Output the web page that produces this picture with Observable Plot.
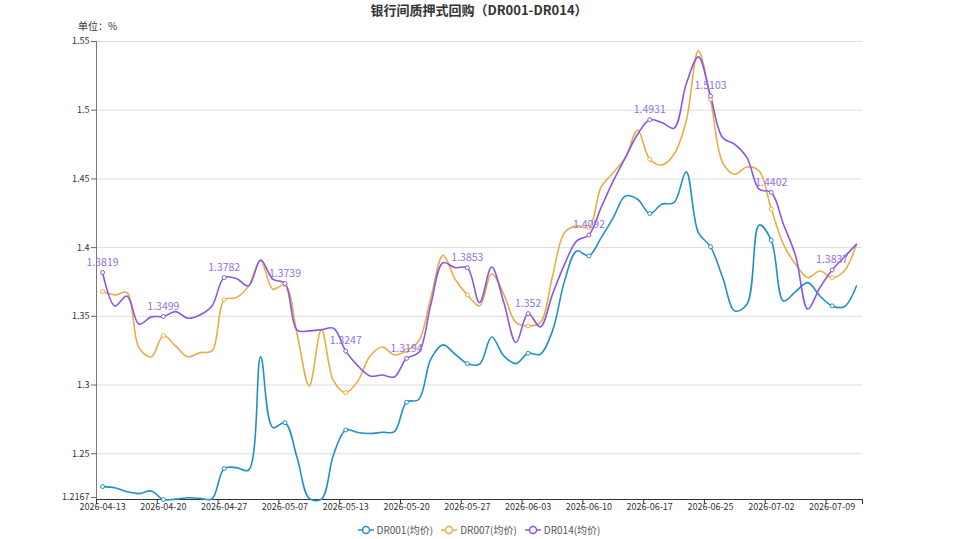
<!DOCTYPE html>
<html>
<head>
<meta charset="utf-8">
<script src="https://cdn.jsdelivr.net/npm/d3@7"></script>
<script src="https://cdn.jsdelivr.net/npm/@observablehq/plot@0.6"></script>
<style>
  body { margin: 0; background: #fff; font-family: "Noto Sans CJK SC", "Noto Sans", sans-serif; }
  #wrap { position: relative; width: 958px; height: 539px; }
  #title { height: 20px; line-height: 19px; text-align: center; font-size: 13px; font-weight: bold; color: #333; }
  #unit { position: absolute; left: 78px; top: 18px; font-size: 10px; color: #333; }
  #legend { display: flex; justify-content: center; align-items: center; gap: 8px; height: 19px; font-size: 10px; color: #555; }
  #legend span.item { display: inline-flex; align-items: center; gap: 3px; }
  svg { display: block; }
</style>
</head>
<body>
<div id="wrap">
  <div id="title">银行间质押式回购（DR001-DR014）</div>
  <div id="unit">单位：%</div>
  <div id="chart"></div>
  <div id="legend"></div>
</div>
<script>
// Trading days shown on the category axis
const dates = [
  "2026-04-13","2026-04-14","2026-04-15","2026-04-16","2026-04-17",
  "2026-04-20","2026-04-21","2026-04-22","2026-04-23","2026-04-24",
  "2026-04-27","2026-04-28","2026-04-29","2026-04-30","2026-05-06",
  "2026-05-07","2026-05-08","2026-05-09","2026-05-11","2026-05-12",
  "2026-05-13","2026-05-14","2026-05-15","2026-05-18","2026-05-19",
  "2026-05-20","2026-05-21","2026-05-22","2026-05-25","2026-05-26",
  "2026-05-27","2026-05-28","2026-05-29","2026-06-01","2026-06-02",
  "2026-06-03","2026-06-04","2026-06-05","2026-06-08","2026-06-09",
  "2026-06-10","2026-06-11","2026-06-12","2026-06-15","2026-06-16",
  "2026-06-17","2026-06-18","2026-06-22","2026-06-23","2026-06-24",
  "2026-06-25","2026-06-26","2026-06-29","2026-06-30","2026-07-01",
  "2026-07-02","2026-07-03","2026-07-06","2026-07-07","2026-07-08",
  "2026-07-09","2026-07-10","2026-07-13"
];

const seriesNames = ["DR001(均价)", "DR007(均价)", "DR014(均价)"];
const seriesColors = ["#1f91c6", "#e9ad48", "#8758e3"];

const dr001 = [
  1.2261,1.2253,1.2224,1.2210,1.2229, 1.2167,1.2170,1.2180,1.2175,1.2172,
  1.2392,1.2399,1.2380,1.3205,1.2690, 1.2726,1.2471,1.2175,1.2170,1.2495,
  1.2673,1.2654,1.2647,1.2656,1.2661, 1.2875,1.2895,1.3190,1.3292,1.3224,
  1.3156,1.3151,1.3350,1.3212,1.3156, 1.3231,1.3224,1.3394,1.3758,1.3976,
  1.3940,1.4071,1.4218,1.4376,1.4352, 1.4248,1.4316,1.4328,1.4551,1.4109,
  1.4007,1.3782,1.3539,1.3588,1.4165, 1.4053,1.3612,1.3680,1.3745,1.3648,
  1.3576,1.3570,1.3721
];

const dr007 = [
  1.3680,1.3656,1.3673,1.3270,1.3205, 1.3360,1.3285,1.3205,1.3236,1.3248,
  1.3620,1.3636,1.3720,1.3905,1.3697, 1.3730,1.3370,1.2994,1.3404,1.3030,
  1.2945,1.3030,1.3212,1.3277,1.3219, 1.3250,1.3320,1.3636,1.3944,1.3770,
  1.3656,1.3576,1.3810,1.3660,1.3454, 1.3430,1.3454,1.3790,1.4110,1.4158,
  1.4146,1.4440,1.4546,1.4655,1.4854, 1.4643,1.4602,1.4680,1.4922,1.5432,
  1.5080,1.4619,1.4534,1.4587,1.4558, 1.4280,1.4024,1.3879,1.3782,1.3830,
  1.3782,1.3830,1.4024
];

const dr014 = [
  1.3819,1.3576,1.3648,1.3442,1.3496, 1.3499,1.3534,1.3486,1.3510,1.3576,
  1.3782,1.3775,1.3721,1.3910,1.3770, 1.3739,1.3399,1.3394,1.3403,1.3413,
  1.3247,1.3139,1.3066,1.3073,1.3059, 1.3194,1.3236,1.3588,1.3890,1.3854,
  1.3853,1.3600,1.3859,1.3600,1.3309, 1.3520,1.3423,1.3660,1.3880,1.4049,
  1.4092,1.4291,1.4485,1.4655,1.4825, 1.4931,1.4910,1.4869,1.5190,1.5388,
  1.5103,1.4800,1.4752,1.4655,1.4425, 1.4402,1.4170,1.3940,1.3552,1.3709,
  1.3837,1.3932,1.4024
];

const yTicks = [1.25, 1.3, 1.35, 1.4, 1.45, 1.5, 1.55];
const yMax = 1.55;
const labelEvery = 5;

// Long-format rows for the three series
const seriesValues = [dr001, dr007, dr014];
const rows = [];
seriesValues.forEach((vals, s) => vals.forEach((v, i) => rows.push({ i, v, name: seriesNames[s] })));
const yMin = d3.min(rows, d => d.v);

const symbolRows = rows.filter(d => d.i % labelEvery === 0);
const labelRows = symbolRows.filter(d => d.name === seriesNames[2]);

const labelIdx = d3.range(0, dates.length, labelEvery);
const boundaries = labelIdx.map(i => i - 0.5).concat([dates.length - 0.5]);
const fmt = d => String(+d.toFixed(4));

const chart = Plot.plot({
  width: 958,
  height: 500,
  marginTop: 21,
  marginBottom: 21,
  marginLeft: 96,
  marginRight: 96,
  style: { fontFamily: "'Noto Sans CJK SC', 'Noto Sans', sans-serif", fontSize: "9px", color: "#333", background: "#fff" },
  x: { domain: [-0.5, dates.length - 0.5] },
  y: { domain: [yMin, yMax] },
  color: { domain: seriesNames, range: seriesColors },
  marks: [
    Plot.gridY(yTicks, { stroke: "#dcdcdc", strokeOpacity: 1 }),
    Plot.axisY(yTicks, { tickSize: 5, tickPadding: 2, tickFormat: fmt, label: null, stroke: "#666", fill: "#333" }),
    // bottom value of the axis sits on the x axis line, lifted a touch so it clears the date labels
    Plot.axisY([yMin], { tickSize: 5, tickPadding: 2, tickFormat: fmt, label: null, stroke: "#666", fill: "#333", dy: -2 }),
    Plot.axisX(labelIdx, { tickSize: 0, tickPadding: 4, tickFormat: i => dates[i], label: null, fill: "#333" }),
    Plot.axisX(boundaries, { tickSize: 5, tickFormat: () => "", label: null, stroke: "#333" }),
    Plot.ruleX([-0.5], { stroke: "#777" }),
    Plot.ruleY([yMin], { stroke: "#333" }),
    Plot.lineY(rows, { x: "i", y: "v", z: "name", stroke: "name", curve: "catmull-rom", strokeWidth: 1.6 }),
    Plot.dot(symbolRows, { x: "i", y: "v", stroke: "name", fill: "white", r: 2, strokeWidth: 1 }),
    Plot.text(labelRows, { x: "i", y: "v", text: d => String(d.v), dy: -10, fill: "#9270e6", fontSize: 10.5 })
  ]
});
document.getElementById("chart").appendChild(chart);

// Legend: line-with-circle symbol followed by series name
const legend = d3.select("#legend");
seriesNames.forEach((name, s) => {
  const item = legend.append("span").attr("class", "item");
  const icon = item.append("svg").attr("width", 16).attr("height", 10);
  icon.append("line").attr("x1", 0).attr("x2", 16).attr("y1", 5).attr("y2", 5)
    .attr("stroke", seriesColors[s]).attr("stroke-width", 1.5);
  icon.append("circle").attr("cx", 8).attr("cy", 5).attr("r", 3.5)
    .attr("fill", "#fff").attr("stroke", seriesColors[s]).attr("stroke-width", 1.5);
  item.append("span").text(name);
});
</script>
</body>
</html>
